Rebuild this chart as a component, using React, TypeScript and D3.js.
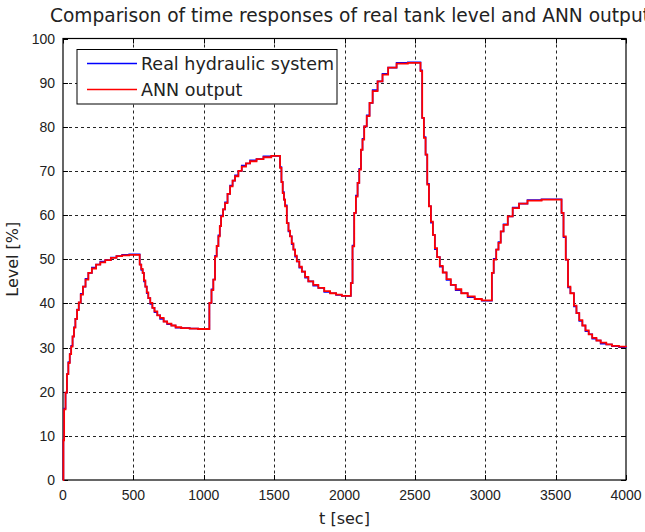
import React from "react";
import * as d3 from "d3";

const times = [
  0, 3, 8, 18, 28, 38, 48, 58, 68, 78, 88, 100, 112, 126, 142, 160, 180, 205, 235, 265, 300, 340, 380, 420, 470,
  545, 556, 566, 575, 585, 595, 606, 620, 635, 650, 670, 690, 715, 740, 770, 800, 840, 900, 960,
  1040, 1055, 1068, 1080, 1092, 1104, 1114, 1123, 1137, 1151, 1169, 1187, 1205, 1222, 1246, 1270, 1300, 1329, 1375, 1424, 1480,
  1542, 1552, 1561, 1570, 1578, 1590, 1602, 1613, 1625, 1637, 1649, 1661, 1679, 1697, 1720, 1743, 1778, 1814, 1856, 1898, 1940, 1981,
  2045, 2057, 2069, 2081, 2093, 2105, 2117, 2128, 2140, 2158, 2178, 2200, 2235, 2270, 2310, 2370, 2450,
  2540, 2552, 2564, 2576, 2588, 2600, 2614, 2628, 2642, 2658, 2677, 2698, 2725, 2755, 2790, 2830, 2875, 2925, 2975,
  3047, 3060, 3078, 3094, 3110, 3130, 3160, 3195, 3240, 3300, 3400,
  3542, 3556, 3572, 3588, 3605, 3630, 3648, 3668, 3690, 3712, 3735, 3760, 3790, 3820, 3860, 3900, 3950, 4000,
];

const annLevel = [
  0, 9, 16, 19.8, 24, 26.5, 28.5, 30.2, 32.5, 34.5, 36.5, 38.5, 40.2, 42, 43.8, 45.4, 46.9, 47.9, 48.8, 49.3, 49.8, 50.3, 50.7, 50.9, 51.0,
  48.8, 47.8, 46.9, 45.2, 43.8, 42.5, 41.2, 40.1, 39.0, 38.2, 37.3, 36.7, 35.9, 35.4, 35.0, 34.6, 34.4, 34.3, 34.2,
  40.1, 43, 45.4, 50.6, 53, 55.2, 57.5, 59.7, 61.3, 62.7, 64.8, 66.5, 67.8, 68.8, 70.0, 71.0, 71.7, 72.2, 72.7, 73.1, 73.4,
  70.7, 67.5, 65.0, 63.5, 62.0, 58.2, 56.5, 55.2, 53.6, 52.2, 50.8, 49.5, 48.3, 47.2, 46.0, 45.0, 44.2, 43.5, 42.8, 42.3, 42.0, 41.7,
  44.6, 52.9, 60.5, 64.2, 67.3, 70.3, 74.8, 77.1, 80.1, 82.4, 85.4, 88.1, 90.3, 91.8, 93.4, 94.3, 94.5,
  92.6, 82.0, 77.5, 73.7, 66.9, 62.0, 58.5, 55.5, 52.5, 50.5, 48.5, 47.0, 45.5, 44.2, 43.2, 42.3, 41.6, 41.0, 40.7,
  46.9, 49.9, 52.2, 53.7, 56.3, 57.8, 59.7, 61.6, 62.6, 63.3, 63.5,
  60.5, 55.2, 49.9, 43.8, 42.3, 39.5, 37.8, 36.2, 35.0, 33.9, 33.0, 32.2, 31.6, 31.1, 30.7, 30.4, 30.2, 30.1,
];

const realLevel = [
  0, 9, 16.2, 19.8, 24, 26.7, 28.5, 30.4, 32.5, 34.6, 36.5, 38.6, 40.2, 42.2, 43.8, 45.6, 46.9, 48.1, 48.8, 49.5, 49.8, 50.4, 50.7, 51.0, 51.1,
  48.8, 47.6, 46.9, 45.0, 43.8, 42.3, 41.2, 39.9, 39.0, 38.0, 37.3, 36.5, 35.9, 35.3, 35.0, 34.5, 34.4, 34.3, 34.2,
  40.1, 43.2, 45.4, 50.8, 53, 55.4, 57.5, 59.9, 61.3, 62.9, 64.8, 66.7, 67.8, 69.0, 70.0, 71.2, 71.7, 72.4, 72.7, 73.3, 73.4,
  70.9, 67.5, 65.2, 63.5, 62.2, 58.2, 56.3, 55.2, 53.4, 52.2, 50.6, 49.5, 48.1, 47.2, 45.8, 45.0, 44.0, 43.5, 42.6, 42.3, 41.9, 41.7,
  44.6, 53.1, 60.5, 64.4, 67.3, 70.5, 74.8, 77.3, 80.1, 82.6, 85.4, 88.3, 90.3, 92.0, 93.4, 94.5, 94.6,
  92.8, 82.0, 77.7, 73.7, 67.1, 62.0, 58.3, 55.5, 52.3, 50.5, 48.3, 47.0, 45.3, 44.2, 43.0, 42.3, 41.4, 41.0, 40.6,
  46.9, 50.1, 52.2, 53.9, 56.3, 57.9, 59.7, 61.7, 62.6, 63.4, 63.6,
  60.5, 55.0, 49.9, 43.6, 42.3, 39.3, 37.8, 36.0, 35.0, 33.7, 33.0, 32.0, 31.6, 30.9, 30.7, 30.3, 30.1, 30.0,
];

const xTicks = [0, 500, 1000, 1500, 2000, 2500, 3000, 3500, 4000];
const yTicks = [0, 10, 20, 30, 40, 50, 60, 70, 80, 90, 100];

const seriesNames = ["Real hydraulic system", "ANN output"];
const seriesColors = ["#0000ff", "#ff0000"];

const titleText = "Comparison of time responses of real tank level and ANN output";
const xLabel = "t [sec]";
const yLabel = "Level [%]";

export default function App() {
  const W = 645;
  const H = 532;
  const m = { left: 63, right: 19, top: 38.5, bottom: 52 };
  const x = d3.scaleLinear().domain([0, 4000]).range([m.left, W - m.right]);
  const y = d3.scaleLinear().domain([0, 100]).range([H - m.bottom, m.top]);

  const line = (vals: number[]) =>
    d3
      .line<number>()
      .x((_, i) => x(times[i]))
      .y((v) => y(v))
      .curve(d3.curveStepAfter)(vals) || "";

  const x0 = x(0), x1 = x(4000), y0 = y(0), y1 = y(100);
  const tickFont = "'Liberation Sans', Arial, sans-serif";
  const textFont = "'DejaVu Sans', sans-serif";

  const lg = { x: 77, y: 49.5, w: 260, h: 54.5 };

  return (
    <svg
      width={W}
      height={H}
      style={{ position: "absolute", left: 0, top: 0, background: "#fff" }}
    >
      <rect x={0} y={0} width={W} height={H} fill="#fff" />
      {/* grid */}
      <g stroke="#000" strokeWidth={1} strokeDasharray="3,3" opacity={0.85}>
        {xTicks.slice(1, -1).map((t) => (
          <line key={"gx" + t} x1={Math.round(x(t)) + 0.5} x2={Math.round(x(t)) + 0.5} y1={y1} y2={y0} />
        ))}
        {yTicks.slice(1, -1).map((t) => (
          <line key={"gy" + t} x1={x0} x2={x1} y1={Math.round(y(t)) + 0.5} y2={Math.round(y(t)) + 0.5} />
        ))}
      </g>
      {/* ticks */}
      <g stroke="#000" strokeWidth={1}>
        {xTicks.map((t) => {
          const px = Math.round(x(t)) + 0.5;
          return (
            <g key={"tx" + t}>
              <line x1={px} x2={px} y1={y0} y2={y0 - 5} />
              <line x1={px} x2={px} y1={y1} y2={y1 + 5} />
            </g>
          );
        })}
        {yTicks.map((t) => {
          const py = Math.round(y(t)) + 0.5;
          return (
            <g key={"ty" + t}>
              <line x1={x0} x2={x0 + 5} y1={py} y2={py} />
              <line x1={x1} x2={x1 - 5} y1={py} y2={py} />
            </g>
          );
        })}
      </g>
      <rect x={x0} y={y1} width={x1 - x0} height={y0 - y1} fill="none" stroke="#000" strokeWidth={1.2} />
      {/* series */}
      <path d={line(realLevel)} fill="none" stroke={seriesColors[0]} strokeWidth={1.6} />
      <path d={line(annLevel)} fill="none" stroke={seriesColors[1]} strokeWidth={1.8} />
      {/* tick labels */}
      <g fontFamily={tickFont} fontSize={14} fill="#222">
        {xTicks.map((t) => (
          <text key={"lx" + t} x={x(t)} y={y0 + 20} textAnchor="middle">
            {t}
          </text>
        ))}
        {yTicks.map((t) => (
          <text key={"ly" + t} x={x0 - 8} y={y(t) + 5} textAnchor="end">
            {t}
          </text>
        ))}
      </g>
      {/* axis labels */}
      <text x={(x0 + x1) / 2} y={524} textAnchor="middle" fontFamily={textFont} fontSize={16} fill="#222">
        {xLabel}
      </text>
      <text
        transform={`translate(18, ${(y0 + y1) / 2}) rotate(-90)`}
        textAnchor="middle"
        fontFamily={textFont}
        fontSize={16}
        fill="#222"
      >
        {yLabel}
      </text>
      {/* title */}
      <text x={50} y={22} textAnchor="start" fontFamily={textFont} fontSize={18.6} fill="#222">
        {titleText}
      </text>
      {/* legend */}
      <rect x={lg.x} y={lg.y} width={lg.w} height={lg.h} fill="#fff" stroke="#000" strokeWidth={1} />
      {seriesNames.map((name, i) => {
        const ly = lg.y + 14 + i * 26;
        return (
          <g key={name}>
            <line x1={lg.x + 10} x2={lg.x + 60} y1={ly} y2={ly} stroke={seriesColors[i]} strokeWidth={1.5} />
            <text x={lg.x + 64} y={ly + 6} fontFamily={textFont} fontSize={17.5} fill="#222">
              {name}
            </text>
          </g>
        );
      })}
    </svg>
  );
}
